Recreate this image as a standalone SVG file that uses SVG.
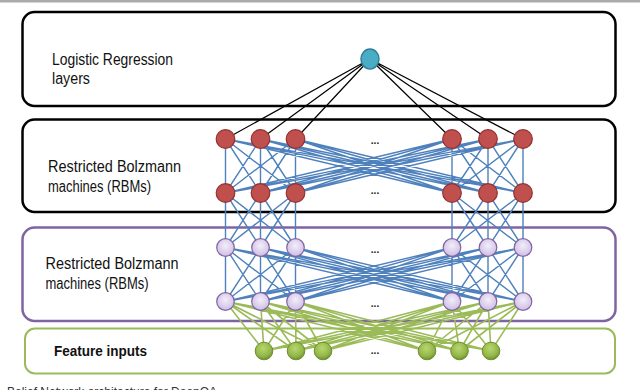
<svg xmlns="http://www.w3.org/2000/svg" width="640" height="390" viewBox="0 0 640 390">
<style>
.box{fill:#fff;stroke:#000;stroke-width:2.5}
.pbox{fill:#fff;stroke:#8064a2;stroke-width:2.5}
.gbox{fill:#fff;stroke:#9bbb59;stroke-width:2}
.lbl{font-family:"Liberation Sans",Arial,sans-serif;font-size:16px;fill:#111}
.blbl{font-family:"Liberation Sans",Arial,sans-serif;font-size:14px;font-weight:bold;fill:#111}
.dots{font-family:"Liberation Sans",Arial,sans-serif;font-size:10px;font-weight:bold;fill:#222}
.black{fill:none;stroke:#000;stroke-width:1.2}
.blue{fill:none;stroke:#4f81bd;stroke-width:1.4}
.green{fill:none;stroke:#9bbb59;stroke-width:1.6}
.red{fill:#c0504d;stroke:#93302d;stroke-width:1.2}
.purple{fill:url(#pg);stroke:#8064a2;stroke-width:1.2}
.gnode{fill:url(#gg);stroke:#6f8f2f;stroke-width:1}
.teal{fill:#4bacc6;stroke:#2f7f96;stroke-width:1.5}
</style>
<defs>
<radialGradient id="pg" cx="50%" cy="40%" r="65%">
<stop offset="0" stop-color="#f3eefa"/>
<stop offset="1" stop-color="#cbb9e2"/>
</radialGradient>
<radialGradient id="gg" cx="45%" cy="35%" r="65%">
<stop offset="0" stop-color="#b6d76c"/>
<stop offset="0.7" stop-color="#93b64a"/>
<stop offset="1" stop-color="#6e8e2c"/>
</radialGradient>
</defs>
<rect x="0" y="0" width="640" height="390" fill="#fff"/>
<rect x="0" y="0" width="640" height="2.5" fill="#ababab"/>

<g id="box-logistic">
<rect class="box" x="22.5" y="12" width="593" height="94" rx="12"/>
<text class="lbl" x="52" y="65" textLength="121" lengthAdjust="spacingAndGlyphs">Logistic Regression</text>
<text class="lbl" x="52" y="84" textLength="38" lengthAdjust="spacingAndGlyphs">layers</text>
</g>
<g id="box-rbm1">
<rect class="box" x="22.5" y="119.5" width="593" height="92.5" rx="12"/>
<text class="lbl" x="48" y="172" textLength="133" lengthAdjust="spacingAndGlyphs">Restricted Bolzmann</text>
<text class="lbl" x="48" y="192" textLength="103" lengthAdjust="spacingAndGlyphs">machines (RBMs)</text>
</g>
<g id="box-rbm2">
<rect class="pbox" x="22.5" y="227.5" width="593" height="93.5" rx="12"/>
<text class="lbl" x="45.5" y="269" textLength="133" lengthAdjust="spacingAndGlyphs">Restricted Bolzmann</text>
<text class="lbl" x="45.5" y="289" textLength="103" lengthAdjust="spacingAndGlyphs">machines (RBMs)</text>
</g>
<g id="box-features">
<rect class="gbox" x="25" y="328.5" width="590" height="45" rx="10"/>
<text class="blbl" x="54" y="355.5" textLength="93" lengthAdjust="spacingAndGlyphs">Feature inputs</text>
</g>

<g id="connectors">
<path class="black" d="M370 59L225.5 139M370 59L260.5 139M370 59L295.5 139M370 59L452 139M370 59L488 139M370 59L523 139"/>
<path class="blue" d="M225.5 139L225.5 193M225.5 139L260.5 193M225.5 139L295.5 193M225.5 139L452 193M225.5 139L488 193M225.5 139L523 193
M260.5 139L225.5 193M260.5 139L260.5 193M260.5 139L295.5 193M260.5 139L452 193M260.5 139L488 193M260.5 139L523 193
M295.5 139L225.5 193M295.5 139L260.5 193M295.5 139L295.5 193M295.5 139L452 193M295.5 139L488 193M295.5 139L523 193
M452 139L225.5 193M452 139L260.5 193M452 139L295.5 193M452 139L452 193M452 139L488 193M452 139L523 193
M488 139L225.5 193M488 139L260.5 193M488 139L295.5 193M488 139L452 193M488 139L488 193M488 139L523 193
M523 139L225.5 193M523 139L260.5 193M523 139L295.5 193M523 139L452 193M523 139L488 193M523 139L523 193"/>
<path class="blue" d="M225.5 193L225.5 247.5M225.5 193L260.5 247.5M225.5 193L295.5 247.5
M260.5 193L225.5 247.5M260.5 193L260.5 247.5M260.5 193L295.5 247.5
M295.5 193L225.5 247.5M295.5 193L260.5 247.5M295.5 193L295.5 247.5
M452 193L452 247.5M452 193L488 247.5M452 193L523 247.5
M488 193L452 247.5M488 193L488 247.5M488 193L523 247.5
M523 193L452 247.5M523 193L488 247.5M523 193L523 247.5"/>
<path class="blue" d="M225.5 247.5L225.5 301.5M225.5 247.5L260.5 301.5M225.5 247.5L295.5 301.5M225.5 247.5L452 301.5M225.5 247.5L488 301.5M225.5 247.5L523 301.5
M260.5 247.5L225.5 301.5M260.5 247.5L260.5 301.5M260.5 247.5L295.5 301.5M260.5 247.5L452 301.5M260.5 247.5L488 301.5M260.5 247.5L523 301.5
M295.5 247.5L225.5 301.5M295.5 247.5L260.5 301.5M295.5 247.5L295.5 301.5M295.5 247.5L452 301.5M295.5 247.5L488 301.5M295.5 247.5L523 301.5
M452 247.5L225.5 301.5M452 247.5L260.5 301.5M452 247.5L295.5 301.5M452 247.5L452 301.5M452 247.5L488 301.5M452 247.5L523 301.5
M488 247.5L225.5 301.5M488 247.5L260.5 301.5M488 247.5L295.5 301.5M488 247.5L452 301.5M488 247.5L488 301.5M488 247.5L523 301.5
M523 247.5L225.5 301.5M523 247.5L260.5 301.5M523 247.5L295.5 301.5M523 247.5L452 301.5M523 247.5L488 301.5M523 247.5L523 301.5"/>
<path class="green" d="M225.5 301.5L264 351M225.5 301.5L296 351M225.5 301.5L323 351M225.5 301.5L427 351M225.5 301.5L459.5 351M225.5 301.5L491 351
M260.5 301.5L264 351M260.5 301.5L296 351M260.5 301.5L323 351M260.5 301.5L427 351M260.5 301.5L459.5 351M260.5 301.5L491 351
M295.5 301.5L264 351M295.5 301.5L296 351M295.5 301.5L323 351M295.5 301.5L427 351M295.5 301.5L459.5 351M295.5 301.5L491 351
M452 301.5L264 351M452 301.5L296 351M452 301.5L323 351M452 301.5L427 351M452 301.5L459.5 351M452 301.5L491 351
M488 301.5L264 351M488 301.5L296 351M488 301.5L323 351M488 301.5L427 351M488 301.5L459.5 351M488 301.5L491 351
M523 301.5L264 351M523 301.5L296 351M523 301.5L323 351M523 301.5L427 351M523 301.5L459.5 351M523 301.5L491 351"/>
</g>

<g id="node-output">
<ellipse class="teal" cx="370" cy="59" rx="9" ry="10"/>
</g>
<g id="rbm1-visible-row">
<circle class="red" cx="225.5" cy="139" r="9.3"/>
<circle class="red" cx="260.5" cy="139" r="9.3"/>
<circle class="red" cx="295.5" cy="139" r="9.3"/>
<circle class="red" cx="452" cy="139" r="9.3"/>
<circle class="red" cx="488" cy="139" r="9.3"/>
<circle class="red" cx="523" cy="139" r="9.3"/>
<text class="dots" x="375" y="144" text-anchor="middle">...</text>
</g>
<g id="rbm1-hidden-row">
<circle class="red" cx="225.5" cy="193" r="9.3"/>
<circle class="red" cx="260.5" cy="193" r="9.3"/>
<circle class="red" cx="295.5" cy="193" r="9.3"/>
<circle class="red" cx="452" cy="193" r="9.3"/>
<circle class="red" cx="488" cy="193" r="9.3"/>
<circle class="red" cx="523" cy="193" r="9.3"/>
<text class="dots" x="375" y="194" text-anchor="middle">...</text>
</g>
<g id="rbm2-top-row">
<circle class="purple" cx="225.5" cy="247.5" r="8.8"/>
<circle class="purple" cx="260.5" cy="247.5" r="8.8"/>
<circle class="purple" cx="295.5" cy="247.5" r="8.8"/>
<circle class="purple" cx="452" cy="247.5" r="8.8"/>
<circle class="purple" cx="488" cy="247.5" r="8.8"/>
<circle class="purple" cx="523" cy="247.5" r="8.8"/>
<text class="dots" x="375" y="253" text-anchor="middle">...</text>
</g>
<g id="rbm2-bottom-row">
<circle class="purple" cx="225.5" cy="301.5" r="8.8"/>
<circle class="purple" cx="260.5" cy="301.5" r="8.8"/>
<circle class="purple" cx="295.5" cy="301.5" r="8.8"/>
<circle class="purple" cx="452" cy="301.5" r="8.8"/>
<circle class="purple" cx="488" cy="301.5" r="8.8"/>
<circle class="purple" cx="523" cy="301.5" r="8.8"/>
<text class="dots" x="375" y="307" text-anchor="middle">...</text>
</g>
<g id="input-row">
<circle class="gnode" cx="264" cy="351" r="8.8"/>
<circle class="gnode" cx="296" cy="351" r="8.8"/>
<circle class="gnode" cx="323" cy="351" r="8.8"/>
<circle class="gnode" cx="427" cy="351" r="8.8"/>
<circle class="gnode" cx="459.5" cy="351" r="8.8"/>
<circle class="gnode" cx="491" cy="351" r="8.8"/>
<text class="dots" x="375" y="354" text-anchor="middle">...</text>
</g>
<text x="7" y="395.5" font-family="Liberation Sans, Arial, sans-serif" font-size="12" fill="#333">Belief Network architecture for DeepQA</text>
</svg>
